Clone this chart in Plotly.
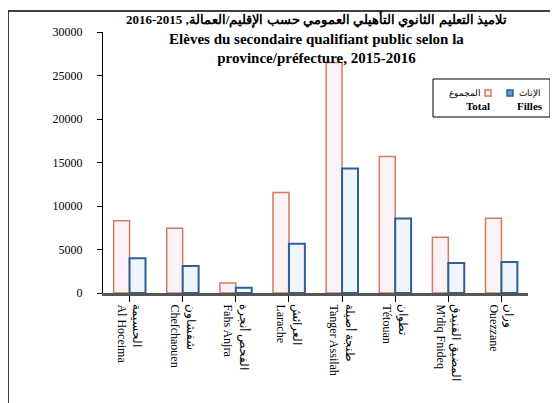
import plotly.graph_objects as go

provinces_fr = ['Al Hoceima', 'Chefchaouen', 'Fahs Anjra', 'Larache',
                'Tanger Assilah', 'Tétouan', "M'diq Fnideq", 'Ouezzane']
provinces_ar = ['الحسيمة', 'شفشاون', 'الفحص أنجرة', 'العرائش',
                'طنجة أصيلة', 'تطوان', 'المضيق الفنيدق', 'وزان']
total = [8300, 7450, 1150, 11550, 26500, 15700, 6400, 8600]
filles = [4000, 3100, 600, 5650, 14300, 8550, 3450, 3550]

title_ar = 'تلاميذ التعليم الثانوي التأهيلي العمومي حسب الإقليم/العمالة, 2015-2016'
title_fr = ['Elèves du secondaire qualifiant public selon la',
            'province/préfecture, 2015-2016']

serif = 'Liberation Serif, Times New Roman, serif'
total_line, total_fill = '#D57A60', '#FBF2F6'
filles_line, filles_fill = '#2D5E96', '#EEF5FC'

x = list(range(len(provinces_fr)))
ticktext = [ar + '<br>' + fr for ar, fr in zip(provinces_ar, provinces_fr)]

# page body adds 8px, so plot area in screen pixels is x 103..528, y 32..293
def px(v):
    return (v - 103) / 425

def py(v):
    return (293 - v) / 261

fig = go.Figure()
fig.add_trace(go.Bar(
    x=x, y=total, name='Total', showlegend=False,
    marker=dict(color=total_fill, line=dict(color=total_line, width=1.5)),
))
fig.add_trace(go.Bar(
    x=x, y=filles, name='Filles', showlegend=False,
    marker=dict(color=filles_fill, line=dict(color=filles_line, width=2)),
))

shapes = [
    # outer frame
    dict(type='rect', xref='paper', yref='paper',
         xsizemode='pixel', ysizemode='pixel', xanchor=0, yanchor=1,
         x0=-95, x1=480, y0=-400, y1=21,
         line=dict(color='black', width=1.5), layer='below'),
    # legend box
    dict(type='rect', xref='paper', yref='paper',
         x0=px(433), x1=px(550), y0=py(117), y1=py(79),
         line=dict(color='black', width=1), fillcolor='white'),
    # legend markers
    dict(type='rect', xref='paper', yref='paper',
         x0=px(485), x1=px(491), y0=py(96), y1=py(90),
         line=dict(color=total_line, width=1.5), fillcolor=total_fill),
    dict(type='rect', xref='paper', yref='paper',
         x0=px(507), x1=px(513), y0=py(96), y1=py(90),
         line=dict(color=filles_line, width=1.5), fillcolor='#6E9ACB'),
]

title_text = ('<b><span style="font-size:13px">' + title_ar + '</span><br>'
              + '<br>'.join(title_fr) + '</b>')

annotations = [
    dict(text=title_text,
         xref='paper', yref='paper', x=px(316), y=py(8),
         xanchor='center', yanchor='top', showarrow=False,
         font=dict(family=serif, size=15, color='black')),
    dict(text='المجموع', xref='paper', yref='paper', x=px(483), y=py(93),
         xanchor='right', yanchor='middle', showarrow=False,
         font=dict(family=serif, size=9, color='black')),
    dict(text='<b>Total</b>', xref='paper', yref='paper', x=px(478), y=py(106),
         xanchor='center', yanchor='middle', showarrow=False,
         font=dict(family=serif, size=11, color='black')),
    dict(text='الإناث', xref='paper', yref='paper', x=px(517), y=py(93),
         xanchor='left', yanchor='middle', showarrow=False,
         font=dict(family=serif, size=9, color='black')),
    dict(text='<b>Filles</b>', xref='paper', yref='paper', x=px(530), y=py(106),
         xanchor='center', yanchor='middle', showarrow=False,
         font=dict(family=serif, size=11, color='black')),
]

fig.update_layout(
    width=558, height=403,
    paper_bgcolor='white', plot_bgcolor='white',
    margin=dict(l=95, r=38, t=24, b=118, autoexpand=False),
    barmode='group', bargap=0.4, bargroupgap=0.0,
    font=dict(family=serif, color='black', size=12),
    showlegend=False,
    shapes=shapes,
    annotations=annotations,
)

fig.update_xaxes(
    tickvals=x, ticktext=ticktext, tickangle=90,
    range=[-0.5, len(x) - 0.5],
    showline=True, linecolor='#555555', linewidth=3,
    ticks='outside', tickson='boundaries', ticklen=6, tickcolor='black',
    showgrid=False, tickfont=dict(family=serif, size=12, color='black'),
)
fig.update_yaxes(
    range=[0, 30000], dtick=5000, tickformat='d',
    showline=True, linecolor='black', linewidth=1,
    ticks='outside', ticklen=5, tickcolor='black',
    ticklabelstandoff=12,
    showgrid=False, zeroline=False,
    tickfont=dict(family=serif, size=12, color='black'),
)

fig.write_html('out.html')
